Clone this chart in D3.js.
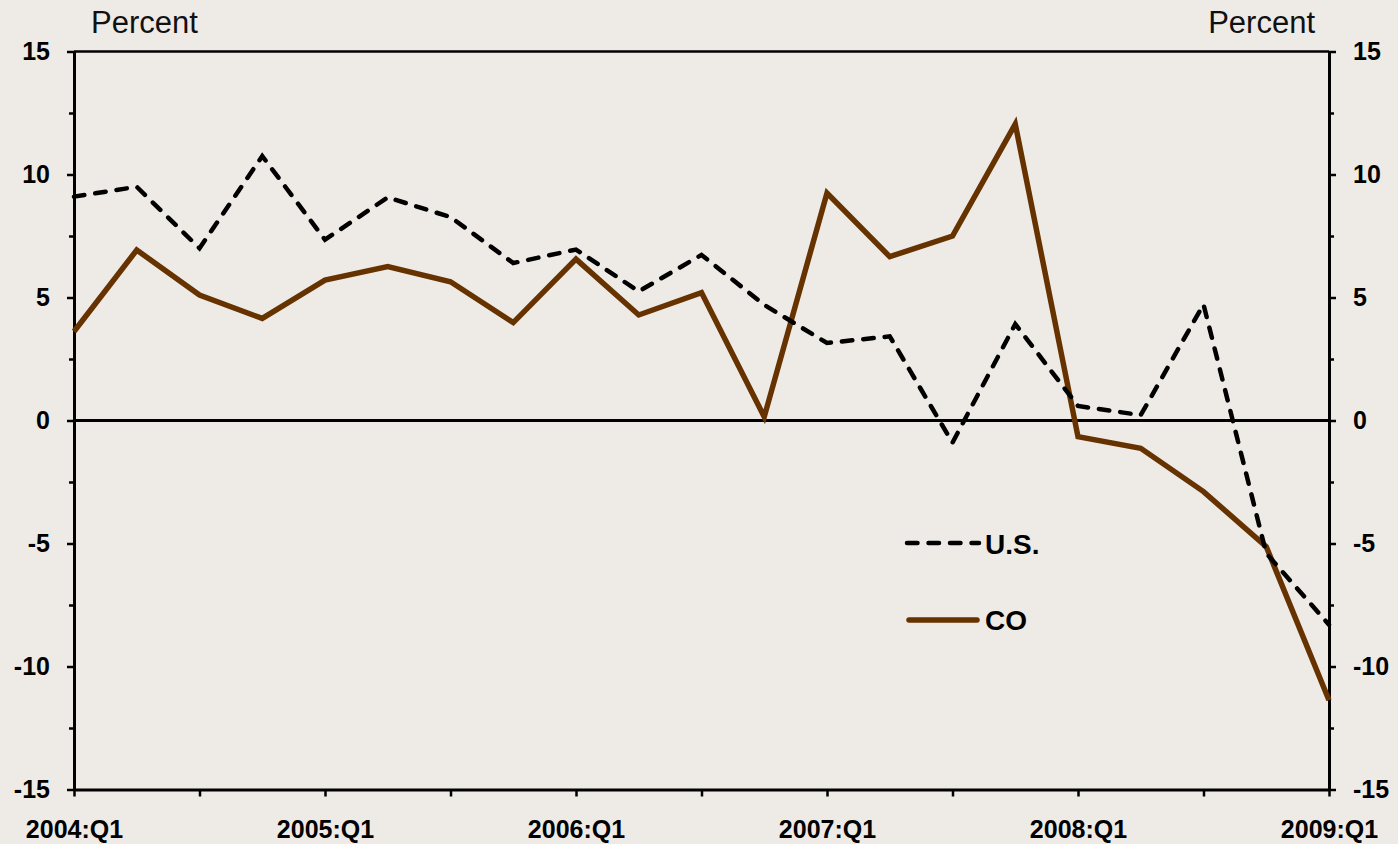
<!DOCTYPE html>
<html><head><meta charset="utf-8">
<script src="https://cdn.jsdelivr.net/npm/d3@7"></script>
<style>
html,body{margin:0;padding:0;background:#EEEBE7;}
svg{display:block;}
text{font-family:"Liberation Sans",Arial,Helvetica,sans-serif;}
</style></head><body>
<svg id="chart" width="1398" height="844"></svg>
<script>
const quarters = ["2004:Q1","2004:Q2","2004:Q3","2004:Q4",
  "2005:Q1","2005:Q2","2005:Q3","2005:Q4",
  "2006:Q1","2006:Q2","2006:Q3","2006:Q4",
  "2007:Q1","2007:Q2","2007:Q3","2007:Q4",
  "2008:Q1","2008:Q2","2008:Q3","2008:Q4",
  "2009:Q1"];
const usValues = [9.1, 9.5, 7.0, 10.75, 7.35, 9.07, 8.27, 6.4, 6.95, 5.25, 6.73, 4.7, 3.15, 3.42, -0.9, 3.92, 0.59, 0.22, 4.72, -5.4, -8.3];
const coValues = [3.62, 6.93, 5.1, 4.15, 5.71, 6.26, 5.64, 3.98, 6.56, 4.29, 5.2, 0.15, 9.25, 6.66, 7.5, 12.05, -0.66, -1.13, -2.89, -5.13, -11.37];
const yTicks = [-15, -10, -5, 0, 5, 10, 15];
const yMinorTicks = [-12.5, -7.5, -2.5, 2.5, 7.5, 12.5];
const xTickQuarters = ["2004:Q1","2004:Q3","2005:Q1","2005:Q3","2006:Q1","2006:Q3","2007:Q1","2007:Q3","2008:Q1","2008:Q3","2009:Q1"];
const xLabelQuarters = ["2004:Q1","2005:Q1","2006:Q1","2007:Q1","2008:Q1","2009:Q1"];
const seriesNames = ["U.S.", "CO"];
const axisTitle = "Percent";

(function () {
const svg = d3.select("#chart");
const pLeft = 74, pRight = 1329, pTop = 51.5, pBottom = 789.5;

const x = d3.scalePoint().domain(quarters).range([pLeft, pRight]);
const y = d3.scaleLinear().domain([-15, 15]).range([pBottom, pTop]);
const fmt = d => String(d);

// top border
svg.append("line").attr("x1", pLeft).attr("x2", pRight)
  .attr("y1", y(15)).attr("y2", y(15))
  .attr("stroke", "#000").attr("stroke-width", 2.5);

function styleAxis(g) {
  g.select(".domain").attr("stroke", "#000").attr("stroke-width", 3);
  g.selectAll(".tick line").attr("stroke", "#000").attr("stroke-width", 2.5);
  g.selectAll(".tick text").attr("fill", "#000")
    .style("font-size", "25px").style("font-weight", "bold");
}

// left axis
const gL = svg.append("g").attr("transform", `translate(${pLeft},0)`)
  .call(d3.axisLeft(y).tickValues(yTicks).tickSize(7).tickSizeOuter(0).tickPadding(17).tickFormat(fmt));
styleAxis(gL);
const gLm = svg.append("g").attr("transform", `translate(${pLeft},0)`)
  .call(d3.axisLeft(y).tickValues(yMinorTicks).tickSize(5).tickSizeOuter(0).tickFormat(""));
styleAxis(gLm);

// right axis
const gR = svg.append("g").attr("transform", `translate(${pRight},0)`)
  .call(d3.axisRight(y).tickValues(yTicks).tickSize(7).tickSizeOuter(0).tickPadding(17).tickFormat(fmt));
styleAxis(gR);
const gRm = svg.append("g").attr("transform", `translate(${pRight},0)`)
  .call(d3.axisRight(y).tickValues(yMinorTicks).tickSize(5).tickSizeOuter(0).tickFormat(""));
styleAxis(gRm);

// bottom axis
const gB = svg.append("g").attr("transform", `translate(0,${pBottom})`)
  .call(d3.axisBottom(x).tickValues(xTickQuarters).tickSize(7).tickSizeOuter(0).tickPadding(24)
    .tickFormat(d => xLabelQuarters.includes(d) ? d : ""));
styleAxis(gB);

// zero line
svg.append("line").attr("x1", pLeft).attr("x2", pRight)
  .attr("y1", y(0)).attr("y2", y(0))
  .attr("stroke", "#000").attr("stroke-width", 3);

// axis titles
svg.append("text").attr("x", 91).attr("y", 33).text(axisTitle)
  .style("font-size", "31px").attr("fill", "#111");
svg.append("text").attr("x", 1315).attr("y", 33).attr("text-anchor", "end").text(axisTitle)
  .style("font-size", "31px").attr("fill", "#111");

const line = d3.line().x((d, i) => x(quarters[i])).y(d => y(d));

const coColor = "#663300";
svg.append("path").datum(coValues).attr("d", line)
  .attr("fill", "none").attr("stroke", coColor).attr("stroke-width", 5.5)
  .attr("stroke-linejoin", "miter");

svg.append("path").datum(usValues).attr("d", line)
  .attr("fill", "none").attr("stroke", "#000").attr("stroke-width", 4.5)
  .attr("stroke-dasharray", "10.5,11").attr("stroke-linecap", "round");

// legend
const legend = svg.append("g");
legend.append("line").attr("x1", 907).attr("x2", 979).attr("y1", 543).attr("y2", 543)
  .attr("stroke", "#000").attr("stroke-width", 4.5)
  .attr("stroke-dasharray", "10.5,11").attr("stroke-linecap", "round");
legend.append("text").attr("x", 985).attr("y", 554).text(seriesNames[0])
  .style("font-size", "28px").style("font-weight", "bold");
legend.append("line").attr("x1", 909).attr("x2", 977).attr("y1", 620).attr("y2", 620)
  .attr("stroke", coColor).attr("stroke-width", 5.5).attr("stroke-linecap", "round");
legend.append("text").attr("x", 985).attr("y", 630).text(seriesNames[1])
  .style("font-size", "28px").style("font-weight", "bold");
})();
</script>
</body></html>
